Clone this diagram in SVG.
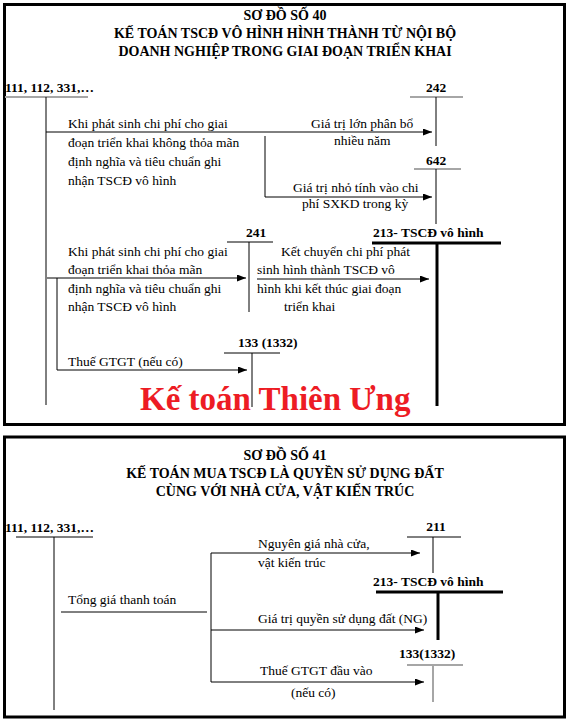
<svg xmlns="http://www.w3.org/2000/svg" width="570" height="722" viewBox="0 0 570 722">
<defs>
<marker id="ah" markerWidth="9" markerHeight="7" refX="9" refY="3.5" orient="auto" markerUnits="userSpaceOnUse"><path d="M0,0 L9,3.5 L0,7 Z" fill="#000"/></marker>
</defs>
<style>
.t{font-family:"Liberation Serif","Times New Roman",serif;font-size:13.5px;fill:#000}
.b{font-weight:bold}
.m{text-anchor:middle}
.h{font-family:"Liberation Serif","Times New Roman",serif;font-size:14px;font-weight:bold;text-anchor:middle;fill:#000}
.ln{stroke:#000;stroke-width:1;fill:none}
.g{stroke:#a6a6a6;stroke-width:2;fill:none}
.k{stroke:#000;stroke-width:3;fill:none}
.frame{fill:#fff;stroke:#000;stroke-width:3}
.arr{stroke:#000;stroke-width:1;fill:none;marker-end:url(#ah)}
.wm{font-family:"Liberation Serif","Times New Roman",serif;font-size:33px;font-weight:bold;fill:#ed1c24}
</style>
<rect width="570" height="722" fill="#fff"/>

<!-- ===== Diagram 40 ===== -->
<g id="frame40">
<rect class="frame" x="4.5" y="4.5" width="560" height="420"/>
<text class="h" x="285" y="20">SƠ ĐỒ SỐ 40</text>
<text class="h" x="285" y="38">KẾ TOÁN TSCĐ VÔ HÌNH HÌNH THÀNH TỪ NỘI BỘ</text>
<text class="h" x="285" y="56">DOANH NGHIỆP TRONG GIAI ĐOẠN TRIỂN KHAI</text>
</g>

<g id="acc111a">
<text class="t b" x="5" y="92">111, 112, 331,…</text>
<line class="g" x1="5" y1="97" x2="88" y2="97"/>
<line class="ln" x1="46" y1="97" x2="46" y2="405"/>
</g>
<g id="acc242">
<text class="t b m" x="436" y="92">242</text>
<line class="g" x1="410" y1="97" x2="463" y2="97"/>
<line class="ln" x1="436" y1="97" x2="436" y2="146"/>
</g>
<g id="acc642">
<text class="t b m" x="436" y="165">642</text>
<line class="g" x1="414" y1="169" x2="461" y2="169"/>
<line class="ln" x1="436" y1="169" x2="436" y2="224"/>
</g>
<g id="acc241">
<text class="t b m" x="256" y="237">241</text>
<line class="ln" x1="227" y1="242" x2="273" y2="242" stroke="#777"/>
<line class="ln" x1="249" y1="242" x2="249" y2="312"/>
</g>
<g id="acc213a">
<text class="t b" x="373" y="237">213- TSCĐ vô hình</text>
<line class="k" x1="372" y1="243" x2="501" y2="243"/>
<line class="k" x1="437" y1="243" x2="437" y2="406"/>
</g>
<g id="acc133a">
<text class="t b" x="238" y="347">133 (1332)</text>
<line class="ln" x1="224" y1="353" x2="280" y2="353" stroke="#555"/>
<line class="ln" x1="252" y1="353" x2="252" y2="407"/>
</g>

<g id="connectors40">
<path class="arr" d="M46,132 H432"/>
<path class="arr" d="M265,136 V197 H432"/>
<path class="arr" d="M47,278 H246"/>
<path class="arr" d="M257,279 H429"/>
<path class="arr" d="M57,278 V370 H247"/>
</g>

<g id="labels40">
<text class="t" x="68" y="128">Khi phát sinh chi phí cho giai</text>
<text class="t" x="68" y="147">đoạn triển khai không thỏa mãn</text>
<text class="t" x="68" y="166">định nghĩa và tiêu chuẩn ghi</text>
<text class="t" x="68" y="185">nhận TSCĐ vô hình</text>
<text class="t" x="311" y="128">Giá trị lớn phân bổ</text>
<text class="t" x="334" y="145">nhiều năm</text>
<text class="t" x="293" y="192">Giá trị nhỏ tính vào chi</text>
<text class="t" x="302" y="208">phí SXKD trong kỳ</text>
<text class="t" x="68" y="256">Khi phát sinh chi phí cho giai</text>
<text class="t" x="68" y="274">đoạn triển khai thỏa mãn</text>
<text class="t" x="68" y="293">định nghĩa và tiêu chuẩn ghi</text>
<text class="t" x="68" y="311">nhận TSCĐ vô hình</text>
<text class="t" x="281" y="256">Kết chuyển chi phí phát</text>
<text class="t" x="257" y="274">sinh hình thành TSCĐ vô</text>
<text class="t" x="257" y="293">hình khi kết thúc giai đoạn</text>
<text class="t" x="284" y="311">triển khai</text>
<text class="t" x="68" y="366">Thuế GTGT (nếu có)</text>
<text class="wm" x="140" y="410">Kế toán Thiên Ưng</text>
</g>

<!-- ===== Diagram 41 ===== -->
<g id="frame41">
<rect class="frame" x="4.5" y="437" width="560" height="280"/>
<text class="h" x="285" y="460">SƠ ĐỒ SỐ 41</text>
<text class="h" x="285" y="478">KẾ TOÁN MUA TSCĐ LÀ QUYỀN SỬ DỤNG ĐẤT</text>
<text class="h" x="285" y="496">CÙNG VỚI NHÀ CỬA, VẬT KIẾN TRÚC</text>
</g>

<g id="acc111b">
<text class="t b" x="5" y="532">111, 112, 331,…</text>
<line class="ln" x1="16" y1="537" x2="93" y2="537"/>
<line class="ln" x1="54" y1="537" x2="54" y2="710"/>
</g>
<g id="acc211">
<text class="t b m" x="436" y="531">211</text>
<line class="ln" x1="407" y1="537" x2="461" y2="537"/>
<line class="ln" x1="433" y1="537" x2="433" y2="573"/>
</g>
<g id="acc213b">
<text class="t b" x="373" y="586">213- TSCĐ vô hình</text>
<line class="k" x1="376" y1="592" x2="503" y2="592"/>
<line class="k" x1="438" y1="592" x2="438" y2="640"/>
</g>
<g id="acc133b">
<text class="t b" x="399" y="658">133(1332)</text>
<line class="g" x1="407" y1="665" x2="463" y2="665"/>
<line class="g" x1="433" y1="665" x2="433" y2="702" stroke-width="1.5"/>
</g>

<g id="connectors41">
<line class="ln" x1="61" y1="612" x2="207" y2="612"/>
<line class="ln" x1="211" y1="553" x2="211" y2="682"/>
<path class="arr" d="M211,553 H420"/>
<path class="arr" d="M211,630 H424"/>
<path class="arr" d="M211,682 H424"/>
</g>

<g id="labels41">
<text class="t" x="68" y="604">Tổng giá thanh toán</text>
<text class="t" x="258" y="548">Nguyên giá nhà cửa,</text>
<text class="t" x="258" y="567">vật kiến trúc</text>
<text class="t" x="258" y="623">Giá trị quyền sử dụng đất (NG)</text>
<text class="t" x="260" y="675">Thuế GTGT đầu vào</text>
<text class="t" x="291" y="697">(nếu có)</text>
</g>
</svg>
